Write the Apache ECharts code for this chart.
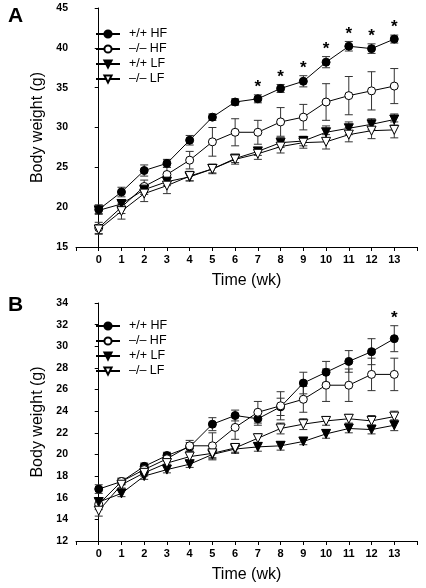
<!DOCTYPE html>
<html><head><meta charset="utf-8">
<script src="https://cdn.jsdelivr.net/npm/echarts@6/dist/echarts.min.js"></script>
<style>html,body{margin:0;padding:0;background:#fff}#c{width:426px;height:588px}</style>
</head><body><div id="c"></div>
<script>
var weeks = [0,1,2,3,4,5,6,7,8,9,10,11,12,13];
var seriesNames = ['+/+ HF','\u2013/\u2013 HF','+/+ LF','\u2013/\u2013 LF'];

// Panel A means and SEM
var aWtHF  = [19.7,21.9,24.6,25.5,28.4,31.3,33.2,33.6,34.9,35.8,38.2,40.2,39.9,41.1];
var aKoHF  = [17.4,20.0,22.6,24.1,25.9,28.2,29.4,29.4,30.7,31.3,33.2,34.0,34.6,35.2];
var aWtLF  = [19.6,20.4,22.2,23.2,23.8,24.8,26.1,27.0,28.1,28.3,29.4,29.9,30.4,31.0];
var aKoLF  = [17.2,19.5,21.7,22.7,23.9,24.8,26.0,26.7,27.6,28.1,28.2,29.1,29.6,29.7];
var aWtHFe = [0.6,0.6,0.7,0.5,0.6,0.4,0.4,0.5,0.5,0.7,0.7,0.6,0.6,0.5];
var aKoHFe = [0.7,0.8,0.8,0.9,1.1,1.8,1.7,1.5,1.8,1.6,2.3,2.4,2.4,2.2];
var aWtLFe = [0.4,0.5,0.6,0.5,0.5,0.5,0.5,0.5,0.6,0.6,0.8,0.8,0.7,0.7];
var aKoLFe = [0.6,1.0,1.0,1.0,0.6,0.6,0.6,0.7,0.8,0.7,0.9,0.9,1.0,1.0];
var aStars = [7,8,9,10,11,12,13];

// Panel B means and SEM
var bWtHF  = [16.8,17.5,18.9,19.9,20.7,22.8,23.6,23.3,24.4,26.6,27.6,28.6,29.5,30.7];
var bKoHF  = [15.4,17.5,18.6,19.6,20.8,20.8,22.5,23.9,24.5,25.1,26.4,26.4,27.4,27.4];
var bWtLF  = [15.6,16.4,18.0,18.6,19.1,20.0,20.5,20.7,20.8,21.2,21.9,22.4,22.3,22.7];
var bKoLF  = [14.8,17.2,18.3,19.2,19.8,20.1,20.6,21.5,22.4,22.8,23.1,23.3,23.1,23.5];
var bWtHFe = [0.4,0.3,0.3,0.3,0.4,0.6,0.5,0.6,0.8,1.0,1.0,1.0,1.2,1.2];
var bKoHFe = [0.5,0.3,0.4,0.5,0.5,1.2,1.1,1.0,1.3,1.2,1.5,1.5,1.5,1.5];
var bWtLFe = [0.4,0.3,0.3,0.3,0.3,0.5,0.4,0.4,0.4,0.3,0.4,0.4,0.4,0.5];
var bKoLFe = [0.5,0.3,0.3,0.3,0.4,0.4,0.4,0.4,0.5,0.5,0.4,0.4,0.5,0.5];
var bStars = [13];

var FONT = 'Liberation Sans, Arial, sans-serif';
var chart = echarts.init(document.getElementById('c'), null, {renderer:'canvas'});

function pairs(m){ return weeks.map(function(w,i){ return [w, m[i]]; }); }
function triples(m,e){ return weeks.map(function(w,i){ return [w, m[i], e[i]]; }); }

var styles = [
  {symbol:'circle', rot:0, fill:'#000', size:8},
  {symbol:'circle', rot:0, fill:'#fff', size:8},
  {symbol:'triangle', rot:180, fill:'#000', size:9},
  {symbol:'triangle', rot:180, fill:'#fff', size:9}
];

function errSeries(idx, m, e){
  return {
    type:'custom', xAxisIndex:idx, yAxisIndex:idx, z:1, silent:true,
    data: triples(m,e),
    renderItem:function(params, api){
      var x=api.value(0), mv=api.value(1), ev=api.value(2);
      var t=api.coord([x,mv+ev]), b=api.coord([x,mv-ev]);
      var st={stroke:'#333', lineWidth:1};
      return {type:'group', children:[
        {type:'line', shape:{x1:t[0],y1:t[1],x2:b[0],y2:b[1]}, style:st},
        {type:'line', shape:{x1:t[0]-4,y1:t[1],x2:t[0]+4,y2:t[1]}, style:st},
        {type:'line', shape:{x1:b[0]-4,y1:b[1],x2:b[0]+4,y2:b[1]}, style:st}
      ]};
    }
  };
}
function lineSeries(idx, k, m){
  var s = styles[k];
  return {
    type:'line', name:seriesNames[k], xAxisIndex:idx, yAxisIndex:idx, z:3+k,
    data: pairs(m), symbol:s.symbol, symbolRotate:s.rot, symbolSize:s.size,
    showAllSymbol:true,
    lineStyle:{color:'#000', width:1},
    itemStyle:{color:s.fill, borderColor:'#000', borderWidth:1},
    emphasis:{disabled:true}, animation:false
  };
}
function starSeries(idx, wks, m, e){
  return {
    type:'custom', xAxisIndex:idx, yAxisIndex:idx, z:10, silent:true,
    data: wks.map(function(w){ return [w, m[w]+e[w]]; }),
    renderItem:function(params, api){
      var p=api.coord([api.value(0), api.value(1)]);
      return {type:'text', x:p[0], y:p[1]+1, style:{text:'*', fill:'#000',
        font:'bold 17px '+FONT, textAlign:'center', textVerticalAlign:'bottom'}};
    }
  };
}

function xAxis(idx){
  return {
    type:'value', gridIndex:idx, min:-1, max:14, interval:1,
    name:'Time (wk)', nameLocation:'middle', nameGap:26,
    nameTextStyle:{fontFamily:FONT, fontSize:16, color:'#000'},
    axisLine:{onZero:false, lineStyle:{color:'#000', width:1}},
    axisTick:{inside:false, length:4, lineStyle:{color:'#000'}},
    axisLabel:{fontFamily:FONT, fontSize:11, fontWeight:'bold', color:'#000', margin:7,
      formatter:function(v){ return (v<0||v>13)?'':String(v); }},
    splitLine:{show:false}
  };
}
function yAxis(idx, mn, mx, iv){
  return {
    type:'value', gridIndex:idx, min:mn, max:mx, interval:iv,
    name:'Body weight (g)', nameLocation:'middle', nameGap:28, nameRotate:90,
    nameTextStyle:{fontFamily:FONT, fontSize:16, color:'#000'},
    axisLine:{show:true, lineStyle:{color:'#000', width:1}},
    axisTick:{show:true, inside:false, length:4, lineStyle:{color:'#000'}},
    axisLabel:{fontFamily:FONT, fontSize:10.5, fontWeight:'bold', color:'#000', margin:8},
    splitLine:{show:false}
  };
}
function legend(top){
  return {
    orient:'vertical', left:90, top:top, itemWidth:24, itemHeight:9, itemGap:1,
    data:seriesNames, selectedMode:false,
    textStyle:{fontFamily:FONT, fontSize:12.5, color:'#000', lineHeight:14, padding:[0,0,0,4]}
  };
}

var option = {
  animation:false,
  backgroundColor:'#fff',
  grid:[
    {left:76, width:341, top:8, height:239},
    {left:76, width:341, top:303, height:238}
  ],
  xAxis:[xAxis(0), xAxis(1)],
  yAxis:[yAxis(0,15,45,5), yAxis(1,12,34,2)],
  legend:[legend(22), legend(314)],
  graphic:[
    {type:'text', left:8, top:6, style:{text:'A', font:'bold 21px '+FONT, fill:'#000'}},
    {type:'text', left:8, top:295, style:{text:'B', font:'bold 21px '+FONT, fill:'#000'}}
  ],
  series:[
    errSeries(0,aWtHF,aWtHFe), errSeries(0,aKoHF,aKoHFe), errSeries(0,aWtLF,aWtLFe), errSeries(0,aKoLF,aKoLFe),
    errSeries(1,bWtHF,bWtHFe), errSeries(1,bKoHF,bKoHFe), errSeries(1,bWtLF,bWtLFe), errSeries(1,bKoLF,bKoLFe),
    lineSeries(0,0,aWtHF), lineSeries(0,1,aKoHF), lineSeries(0,2,aWtLF), lineSeries(0,3,aKoLF),
    lineSeries(1,0,bWtHF), lineSeries(1,1,bKoHF), lineSeries(1,2,bWtLF), lineSeries(1,3,bKoLF),
    starSeries(0,aStars,aWtHF,aWtHFe), starSeries(1,bStars,bWtHF,bWtHFe)
  ]
};
chart.setOption(option);
</script></body></html>
